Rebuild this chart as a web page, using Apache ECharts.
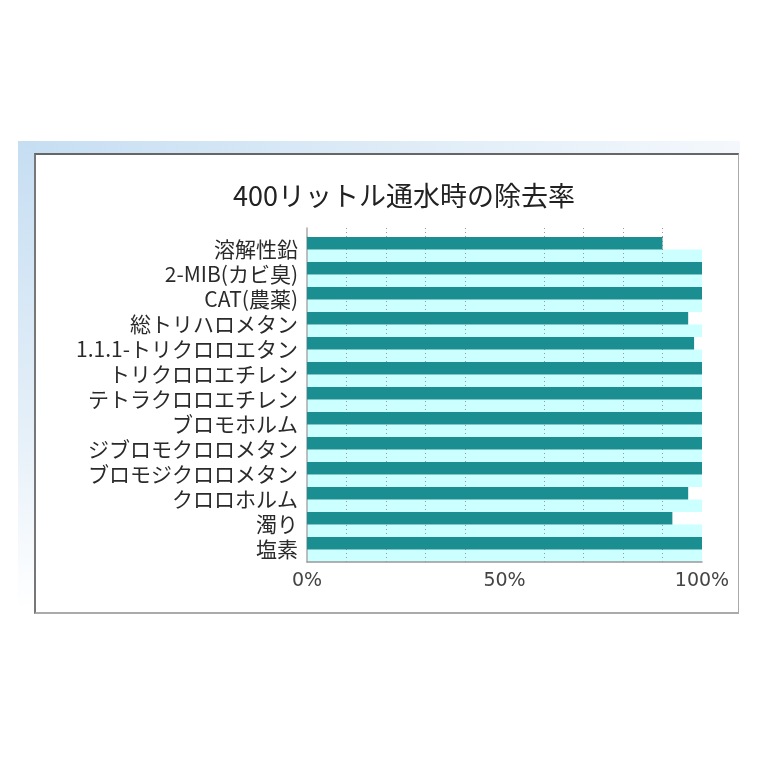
<!DOCTYPE html>
<html>
<head>
<meta charset="utf-8">
<script src="https://cdn.jsdelivr.net/npm/echarts@6/dist/echarts.min.js"></script>
<style>
    html, body { margin: 0; padding: 0; background: #fff; }
    #wrap { position: relative; width: 771px; height: 771px; overflow: hidden; }
    .band-top { position: absolute; left: 18px; top: 141px; width: 722px; height: 14px;
        background: linear-gradient(to right, #c6def2, #e6f0f9 70%, #f4f8fc); }
    .band-left { position: absolute; left: 18px; top: 141px; width: 17px; height: 470px;
        background: linear-gradient(to bottom, #c6def2, #e4eff8 60%, #fff); }
    .frame { position: absolute; left: 34px; top: 153px; width: 702px; height: 457px; background: #fff;
        border-top: 2px solid #666; border-left: 2px solid #777;
        border-right: 1px solid #aaa; border-bottom: 2px solid #aaa; }
    #main { position: absolute; left: 0; top: 0; width: 771px; height: 771px; }
</style>
</head>
<body>
<div id="wrap">
    <div class="band-top"></div>
    <div class="band-left"></div>
    <div class="frame"></div>
    <div id="main"></div>
</div>
<script>
var chartTitle = '400リットル通水時の除去率';
var categories = ['溶解性鉛', '2-MIB(カビ臭)', 'CAT(農薬)', '総トリハロメタン', '1.1.1-トリクロロエタン',
    'トリクロロエチレン', 'テトラクロロエチレン', 'ブロモホルム', 'ジブロモクロロメタン',
    'ブロモジクロロメタン', 'クロロホルム', '濁り', '塩素'];
// removal rate in percent
var removalRate = [90, 100, 100, 96.5, 98, 100, 100, 100, 100, 100, 96.5, 92.5, 100];
// light background bar under each item (full scale)
var fullScale = [100, 100, 100, 100, 100, 100, 100, 100, 100, 100, 100, 100, 100];
var tickLabels = {0: '0%', 50: '50%', 100: '100%'};

var jpFont = 'Noto Sans CJK JP';

var myChart = echarts.init(document.getElementById('main'));

function valueAxis(gridIndex, withLabels) {
    return {
        type: 'value',
        gridIndex: gridIndex,
        min: 0,
        max: 100,
        interval: 50,
        axisLine: { show: withLabels, lineStyle: { color: '#999', width: 1.5 } },
        axisTick: { show: false },
        axisLabel: {
            show: withLabels,
            margin: 10,
            color: '#444',
            fontFamily: 'DejaVu Sans',
            fontSize: 19,
            formatter: function (v) { return tickLabels[v]; }
        },
        splitLine: { show: true, lineStyle: { color: ['#999', '#8a8a8a', '#555'], width: [1, 1, 1.5] } },
        minorTick: { show: false, splitNumber: 5 },
        minorSplitLine: { show: true, lineStyle: { color: '#9a9a9a', type: [1, 3], width: 1 } }
    };
}

var option = {
    animation: false,
    title: {
        text: chartTitle,
        left: 228,
        top: 177,
        textStyle: { fontFamily: jpFont, fontSize: 27, fontWeight: 'normal', color: '#222' }
    },
    grid: [
        { left: 307, right: 69, top: 237, bottom: 209, containLabel: false },
        { left: 307, right: 69, top: 228, height: 9, containLabel: false }
    ],
    xAxis: [valueAxis(0, true), valueAxis(1, false)],
    yAxis: [
        {
            type: 'category',
            gridIndex: 0,
            data: categories,
            inverse: true,
            axisLine: { show: true, lineStyle: { color: '#aaa', width: 1.5 } },
            axisTick: { show: false },
            axisLabel: { interval: 0, margin: 9, color: '#2a2a2a', fontFamily: jpFont, fontSize: 21 }
        },
        {
            type: 'value',
            gridIndex: 1,
            axisLine: { show: true, lineStyle: { color: '#aaa', width: 1.5 } },
            axisTick: { show: false },
            axisLabel: { show: false },
            splitLine: { show: false }
        }
    ],
    series: [
        {
            name: '除去率',
            type: 'bar',
            data: removalRate,
            barGap: '0%',
            barCategoryGap: '0%',
            itemStyle: { color: '#1a8e90' }
        },
        {
            name: '背景',
            type: 'bar',
            z: -1,
            data: fullScale,
            itemStyle: { color: '#ccffff' }
        }
    ]
};

myChart.setOption(option);
</script>
</body>
</html>
